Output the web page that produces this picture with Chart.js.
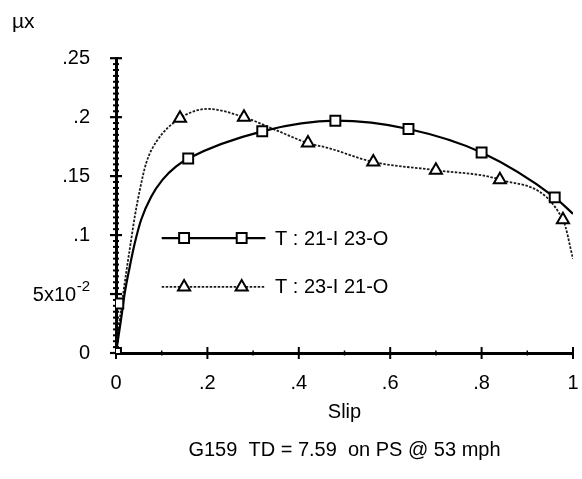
<!DOCTYPE html>
<html><head><meta charset="utf-8">
<script src="https://cdn.jsdelivr.net/npm/chart.js@4.4.0/dist/chart.umd.min.js"></script>
<style>html,body{margin:0;padding:0;background:#fff}#wrap{width:582px;height:479px;position:relative}</style>
</head><body><div id="wrap"><canvas id="c"></canvas></div>
<script>
// ---- data ----
const seriesNames = ['T : 21-I 23-O', 'T : 23-I 21-O'];
// measured points (markers)
const slipA = [0, 0.005, 0.158, 0.32, 0.48, 0.64, 0.80, 0.96];
const muA   = [0, 0.042, 0.165, 0.188, 0.197, 0.190, 0.170, 0.132];
const slipB = [0, 0.14, 0.28, 0.42, 0.563, 0.70, 0.84, 0.978];
const muB   = [0, 0.199, 0.200, 0.178, 0.162, 0.155, 0.147, 0.113];
// fitted curves through the points
const curveSlipA = [0, 0.012, 0.019, 0.030, 0.041, 0.055, 0.077, 0.102, 0.131, 0.158, 0.32, 0.48, 0.64, 0.80, 0.96, 1.0];
const curveMuA   = [0, 0.031, 0.0505, 0.073, 0.093, 0.113, 0.1325, 0.147, 0.158, 0.165, 0.188, 0.197, 0.190, 0.170, 0.132, 0.118];
const curveSlipB = [0, 0.007, 0.015, 0.023, 0.032, 0.041, 0.052, 0.066, 0.088, 0.14, 0.20, 0.28, 0.35, 0.42, 0.463, 0.563, 0.70, 0.84, 0.978, 1.0];
const curveMuB   = [0, 0.025, 0.048, 0.070, 0.093, 0.1155, 0.138, 0.161, 0.179, 0.199, 0.207, 0.200, 0.189, 0.178, 0.174, 0.162, 0.155, 0.147, 0.113, 0.080];
const yTickValues = [0, 0.05, 0.1, 0.15, 0.2, 0.25];
const yTickLabels = ['0', '5x10⁻²', '.1', '.15', '.2', '.25'];
const xTickValues = [0, 0.2, 0.4, 0.6, 0.8, 1];
const xTickLabels = ['0', '.2', '.4', '.6', '.8', '1'];
const yTitle = 'µx';
const xTitle = 'Slip';
const caption = 'G159  TD = 7.59  on PS @ 53 mph';

const toXY = (xs, ys) => xs.map((v, i) => ({x: v, y: ys[i]}));
const FONT = "'Liberation Sans', Arial, Helvetica, sans-serif";
Chart.defaults.font.family = FONT;
Chart.defaults.color = '#000';

const styleA = {borderColor: '#000', borderWidth: 2.2, borderDash: [], pointStyle: 'rect', pointRadius: 7, pointBorderWidth: 2};
const styleB = {borderColor: '#1a1a1a', borderWidth: 1.8, borderDash: [2.5, 1.5], pointStyle: 'triangle', pointRadius: 7, pointBorderWidth: 2};

const legendLayout = {x0: 0.1, x1: 0.327, marks: [0.149, 0.275], tx: 0.348, ys: [0.0975, 0.056]};

const axisTicks = {
  id: 'axisTicks',
  beforeDatasetsDraw(chart) {
    const {ctx, scales: {x, y}} = chart;
    const x0 = x.getPixelForValue(0), y0 = y.getPixelForValue(0);
    ctx.save();
    ctx.strokeStyle = '#000';
    ctx.lineCap = 'butt';
    for (let i = 0; i <= 50; i++) {
      const p = y.getPixelForValue(i * 0.005);
      const major = i % 10 === 0;
      const L = major ? 6 : 3;
      ctx.lineWidth = major ? 2.2 : 2;
      ctx.beginPath(); ctx.moveTo(x0 - L, p); ctx.lineTo(x0 + L, p); ctx.stroke();
    }
    for (let i = 0; i <= 10; i++) {
      const p = x.getPixelForValue(i / 10);
      const major = i % 2 === 0;
      const L = major ? 6 : 2.5;
      ctx.lineWidth = major ? 2 : 1.5;
      ctx.beginPath(); ctx.moveTo(p, y0 - L); ctx.lineTo(p, y0 + L); ctx.stroke();
    }
    ctx.restore();
  },
  afterDraw(chart) {
    // superscript rendering of the 5x10-2 tick label
    const {ctx, scales: {y}} = chart;
    const idx = yTickValues.indexOf(0.05);
    const p = y.getPixelForValue(0.05);
    const right = y.right - y.options.ticks.padding;
    const label = yTickLabels[idx];
    const base = label.replace('⁻²', '');
    ctx.save();
    ctx.fillStyle = '#000';
    ctx.textBaseline = 'middle';
    ctx.textAlign = 'right';
    ctx.font = "15px " + FONT;
    ctx.fillText('-2', right, p - 7);
    const supW = ctx.measureText('-2').width;
    ctx.font = "20px " + FONT;
    ctx.fillText(base, right - supW - 0.5, p + 1);
    ctx.restore();
  }
};

const innerLegend = {
  id: 'innerLegend',
  afterDatasetsDraw(chart, args, opts) {
    const {ctx, scales: {x, y}} = chart;
    const L = opts.layout;
    ctx.save();
    [0, 1].forEach(k => {
      const line = chart.data.datasets[k * 2];
      const ds = chart.data.datasets[k * 2 + 1];
      const py = y.getPixelForValue(L.ys[k]);
      ctx.strokeStyle = line.borderColor;
      ctx.lineWidth = line.borderWidth;
      ctx.setLineDash(line.borderDash || []);
      ctx.beginPath(); ctx.moveTo(x.getPixelForValue(L.x0), py); ctx.lineTo(x.getPixelForValue(L.x1), py); ctx.stroke();
      ctx.setLineDash([]);
      ctx.fillStyle = '#fff'; ctx.strokeStyle = '#000'; ctx.lineWidth = ds.pointBorderWidth;
      L.marks.forEach(m => {
        Chart.helpers.drawPoint(ctx, {pointStyle: ds.pointStyle, radius: ds.pointRadius, borderWidth: ds.pointBorderWidth, rotation: 0}, x.getPixelForValue(m), py);
      });
      ctx.fillStyle = '#000';
      ctx.font = "20px " + FONT;
      ctx.textBaseline = 'middle'; ctx.textAlign = 'left';
      ctx.fillText(seriesNames[k], x.getPixelForValue(L.tx), py + 1);
    });
    ctx.restore();
  }
};

new Chart(document.getElementById('c'), {
  type: 'line',
  data: {
    datasets: [
      {label: seriesNames[0] + ' curve', data: toXY(curveSlipA, curveMuA), borderColor: styleA.borderColor, borderWidth: styleA.borderWidth, borderDash: styleA.borderDash, pointRadius: 0, cubicInterpolationMode: 'monotone', fill: false, order: 2},
      {label: seriesNames[0], data: toXY(slipA, muA), showLine: false, borderColor: '#000', backgroundColor: '#fff', pointStyle: styleA.pointStyle, pointRadius: styleA.pointRadius, pointBorderWidth: styleA.pointBorderWidth, pointBackgroundColor: '#fff', pointBorderColor: '#000', order: 0},
      {label: seriesNames[1] + ' curve', data: toXY(curveSlipB, curveMuB), borderColor: styleB.borderColor, borderWidth: styleB.borderWidth, borderDash: styleB.borderDash, pointRadius: 0, cubicInterpolationMode: 'monotone', fill: false, order: 3},
      {label: seriesNames[1], data: toXY(slipB, muB), showLine: false, borderColor: '#000', backgroundColor: '#fff', pointStyle: styleB.pointStyle, pointRadius: styleB.pointRadius, pointBorderWidth: styleB.pointBorderWidth, pointBackgroundColor: '#fff', pointBorderColor: '#000', order: 1}
    ]
  },
  options: {
    responsive: true, maintainAspectRatio: false, animation: false,
    layout: {padding: {left: 12, right: 0, top: 0, bottom: 0}},
    plugins: {
      legend: {display: false},
      tooltip: {enabled: false},
      title: {display: true, text: yTitle, align: 'start', font: {size: 21, weight: 'normal'}, padding: {top: 10, bottom: 23}},
      innerLegend: {layout: legendLayout}
    },
    scales: {
      x: {
        type: 'linear', min: 0, max: 1,
        grid: {display: false, drawTicks: false},
        border: {display: true, color: '#000', width: 3},
        afterBuildTicks: s => { s.ticks = xTickValues.map(v => ({value: v})); },
        ticks: {font: {size: 20}, padding: 18, maxRotation: 0, autoSkip: false, callback: (v) => xTickLabels[xTickValues.indexOf(+v.toFixed(2))] ?? ''},
        title: {display: true, text: [xTitle, caption], font: {size: 20, lineHeight: 1.9}, padding: {top: 0, bottom: 10}},
        afterFit: s => { s.paddingRight = 4; s.paddingLeft = 0; s.height = 126; }
      },
      y: {
        type: 'linear', min: 0, max: 0.25,
        grid: {display: false, drawTicks: false},
        border: {display: true, color: '#000', width: 3},
        afterBuildTicks: s => { s.ticks = yTickValues.map(v => ({value: v})); },
        ticks: {font: {size: 20}, padding: 26, autoSkip: false,
          color: c => (c.tick && c.tick.value === 0.05) ? 'rgba(0,0,0,0)' : '#000',
          callback: (v) => yTickLabels[yTickValues.indexOf(+v.toFixed(3))] ?? ''},
        afterFit: s => { s.width = 104; }
      }
    }
  },
  plugins: [axisTicks, innerLegend]
});
</script></body></html>
